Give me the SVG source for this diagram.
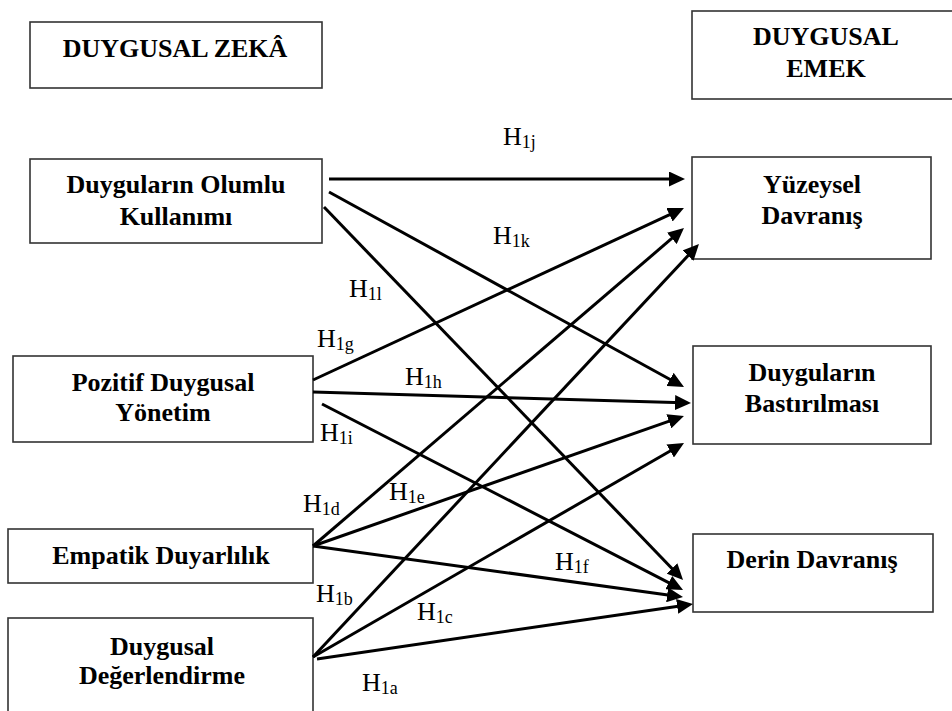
<svg xmlns="http://www.w3.org/2000/svg" width="952" height="711" viewBox="0 0 952 711">
  <style>
    .box { fill: #ffffff; stroke: #333333; stroke-width: 1.6; }
    .title { font-family: 'Liberation Serif', 'Times New Roman', serif; font-weight: bold; font-size: 26px; fill: #000; text-anchor: middle; }
    .edge { stroke: #000; stroke-width: 3; fill: none; marker-end: url(#arrow); }
    .lbl { font-family: 'Liberation Serif', 'Times New Roman', serif; font-size: 26px; fill: #000; }
    .sub { font-size: 18px; }
  </style>
  <defs>
    <marker id="arrow" viewBox="0 0 16 15" markerWidth="16" markerHeight="15" refX="8" refY="7.5" markerUnits="userSpaceOnUse" orient="auto">
      <path d="M0,0 L16,7.5 L0,15 z" fill="#000"/>
    </marker>
  </defs>
  <rect width="952" height="711" fill="#ffffff"/>

  <!-- group headers -->
  <g id="zeka">
    <rect class="box" x="30" y="22" width="292" height="66"/>
    <text class="title" x="175" y="57">DUYGUSAL ZEKÂ</text>
  </g>
  <g id="emek">
    <rect class="box" x="692" y="11" width="268" height="88"/>
    <text class="title" x="826" y="45">DUYGUSAL</text>
    <text class="title" x="826" y="77">EMEK</text>
  </g>

  <!-- emotional intelligence dimensions -->
  <g id="olumlu">
    <rect class="box" x="30" y="159" width="292" height="84"/>
    <text class="title" x="176" y="193">Duyguların Olumlu</text>
    <text class="title" x="176" y="225">Kullanımı</text>
  </g>
  <g id="pozitif">
    <rect class="box" x="13" y="356" width="300" height="86"/>
    <text class="title" x="163" y="391">Pozitif Duygusal</text>
    <text class="title" x="163" y="421">Yönetim</text>
  </g>
  <g id="empatik">
    <rect class="box" x="8" y="529" width="305" height="54"/>
    <text class="title" x="161" y="564">Empatik Duyarlılık</text>
  </g>
  <g id="degerlendirme">
    <rect class="box" x="8" y="618" width="305" height="104"/>
    <text class="title" x="162" y="655">Duygusal</text>
    <text class="title" x="162" y="684">Değerlendirme</text>
  </g>

  <!-- emotional labour dimensions -->
  <g id="yuzeysel">
    <rect class="box" x="692" y="157" width="239" height="102"/>
    <text class="title" x="812" y="193">Yüzeysel</text>
    <text class="title" x="812" y="224">Davranış</text>
  </g>
  <g id="bastirilma">
    <rect class="box" x="693" y="346" width="238" height="98"/>
    <text class="title" x="812" y="381">Duyguların</text>
    <text class="title" x="812" y="412">Bastırılması</text>
  </g>
  <g id="derin">
    <rect class="box" x="693" y="534" width="240" height="78"/>
    <text class="title" x="812" y="568">Derin Davranış</text>
  </g>

  <!-- hypothesis paths -->
  <g id="connectors">
    <line class="edge" x1="329" y1="179" x2="677" y2="179"/>
    <line class="edge" x1="329" y1="192" x2="677" y2="383.2"/>
    <line class="edge" x1="324" y1="207" x2="677.5" y2="574.2"/>
    <line class="edge" x1="313" y1="380" x2="676.7" y2="211.4"/>
    <line class="edge" x1="313" y1="392" x2="683" y2="402.8"/>
    <line class="edge" x1="322" y1="404" x2="675.9" y2="586.3"/>
    <line class="edge" x1="313" y1="546" x2="677.9" y2="233.2"/>
    <line class="edge" x1="313" y1="546" x2="676.4" y2="418.6"/>
    <line class="edge" x1="313" y1="546" x2="675.1" y2="595.9"/>
    <line class="edge" x1="313" y1="657" x2="693.5" y2="249.8"/>
    <line class="edge" x1="313" y1="657" x2="677.1" y2="447"/>
    <line class="edge" x1="317" y1="659" x2="685.1" y2="605.2"/>
  </g>

  <!-- hypothesis labels -->
  <g id="labels">
    <text class="lbl" x="503" y="145">H<tspan class="sub" dy="3">1j</tspan></text>
    <text class="lbl" x="493" y="244">H<tspan class="sub" dy="3">1k</tspan></text>
    <text class="lbl" x="349" y="297">H<tspan class="sub" dy="3">1l</tspan></text>
    <text class="lbl" x="317" y="347">H<tspan class="sub" dy="3">1g</tspan></text>
    <text class="lbl" x="405" y="385">H<tspan class="sub" dy="3">1h</tspan></text>
    <text class="lbl" x="320" y="441">H<tspan class="sub" dy="3">1i</tspan></text>
    <text class="lbl" x="303" y="512">H<tspan class="sub" dy="3">1d</tspan></text>
    <text class="lbl" x="389" y="500">H<tspan class="sub" dy="3">1e</tspan></text>
    <text class="lbl" x="555" y="570">H<tspan class="sub" dy="3">1f</tspan></text>
    <text class="lbl" x="316" y="602">H<tspan class="sub" dy="3">1b</tspan></text>
    <text class="lbl" x="417" y="620">H<tspan class="sub" dy="3">1c</tspan></text>
    <text class="lbl" x="362" y="691">H<tspan class="sub" dy="3">1a</tspan></text>
  </g>
</svg>
